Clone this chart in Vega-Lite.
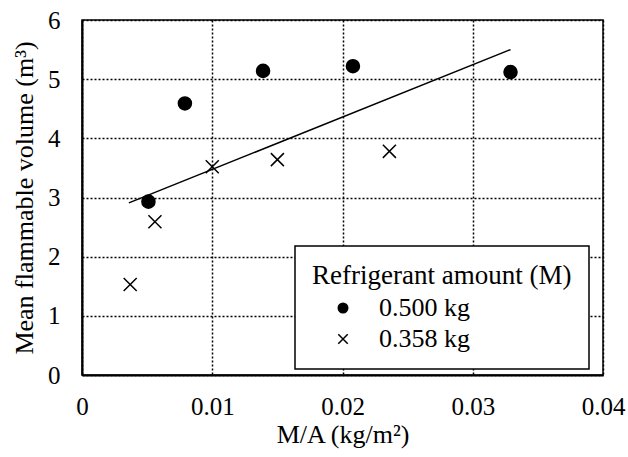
{
  "$schema": "https://vega.github.io/schema/vega-lite/v6.json",
  "width": 521,
  "height": 355,
  "autosize": {"type": "none"},
  "padding": {"left": 82, "top": 20, "right": 25, "bottom": 82},
  "background": "white",
  "config": {
    "font": "Liberation Serif",
    "view": {"stroke": "black", "strokeWidth": 1.5},
    "axis": {
      "labelFont": "Liberation Serif",
      "titleFont": "Liberation Serif",
      "labelColor": "black",
      "titleColor": "black",
      "labelFontSize": 25,
      "titleFontSize": 26,
      "titleFontWeight": "normal",
      "tickSize": 0,
      "domainColor": "black",
      "domainWidth": 2,
      "gridColor": "black",
      "gridDash": [2, 2],
      "gridWidth": 1.5,
      "gridOpacity": 1
    },
    "legend": {
      "titleFont": "Liberation Serif",
      "labelFont": "Liberation Serif",
      "titleFontSize": 27,
      "labelFontSize": 26,
      "titleFontWeight": "normal",
      "titleColor": "black",
      "labelColor": "black",
      "titleLimit": 500,
      "labelLimit": 300,
      "fillColor": "white",
      "strokeColor": "black",
      "strokeWidth": 1.5,
      "padding": 17,
      "symbolSize": 90,
      "symbolOffset": 18,
      "labelOffset": 23,
      "rowPadding": 5,
      "titlePadding": 5,
      "symbolStrokeColor": "black",
      "symbolStrokeWidth": 1.5
    }
  },
  "datasets": {
    "obs": [
      {"ma": 0.0051, "vol": 2.93, "M": "0.500 kg"},
      {"ma": 0.0079, "vol": 4.59, "M": "0.500 kg"},
      {"ma": 0.0139, "vol": 5.14, "M": "0.500 kg"},
      {"ma": 0.0208, "vol": 5.22, "M": "0.500 kg"},
      {"ma": 0.0329, "vol": 5.12, "M": "0.500 kg"},
      {"ma": 0.0037, "vol": 1.53, "M": "0.358 kg"},
      {"ma": 0.0056, "vol": 2.59, "M": "0.358 kg"},
      {"ma": 0.0100, "vol": 3.52, "M": "0.358 kg"},
      {"ma": 0.0150, "vol": 3.64, "M": "0.358 kg"},
      {"ma": 0.0236, "vol": 3.78, "M": "0.358 kg"}
    ],
    "fit": [
      {"ma": 0.0036, "vol": 2.91},
      {"ma": 0.0329, "vol": 5.50}
    ]
  },
  "encoding": {
    "x": {
      "field": "ma",
      "type": "quantitative",
      "scale": {"domain": [0, 0.04], "nice": false, "zero": false},
      "axis": {
        "values": [0, 0.01, 0.02, 0.03, 0.04],
        "format": "~g",
        "title": "M/A (kg/m²)",
        "labelPadding": 19,
        "labelFlush": false,
        "titlePadding": 2,
        "grid": true
      }
    },
    "y": {
      "field": "vol",
      "type": "quantitative",
      "scale": {"domain": [0, 6], "nice": false},
      "axis": {
        "values": [0, 1, 2, 3, 4, 5, 6],
        "title": "Mean flammable volume (m³)",
        "labelPadding": 22,
        "titlePadding": 10,
        "grid": true
      }
    }
  },
  "layer": [
    {
      "data": {"name": "fit"},
      "mark": {"type": "line", "color": "black", "strokeWidth": 1.5},
      "encoding": {}
    },
    {
      "data": {"name": "obs"},
      "mark": {"type": "point", "size": 170, "strokeWidth": 1.5, "opacity": 1},
      "encoding": {
        "shape": {
          "field": "M",
          "type": "nominal",
          "scale": {"domain": ["0.500 kg", "0.358 kg"], "range": ["circle", "M-1,-1L1,1M-1,1L1,-1"]},
          "legend": {
            "title": "Refrigerant amount (M)",
            "orient": "none",
            "legendX": 213,
            "legendY": 226,
            "direction": "vertical"
          }
        },
        "fill": {
          "field": "M",
          "type": "nominal",
          "scale": {"domain": ["0.500 kg", "0.358 kg"], "range": ["black", "transparent"]},
          "legend": {
            "title": "Refrigerant amount (M)",
            "orient": "none",
            "legendX": 213,
            "legendY": 226,
            "direction": "vertical"
          }
        },
        "stroke": {
          "field": "M",
          "type": "nominal",
          "scale": {"domain": ["0.500 kg", "0.358 kg"], "range": ["black", "black"]},
          "legend": {
            "title": "Refrigerant amount (M)",
            "orient": "none",
            "legendX": 213,
            "legendY": 226,
            "direction": "vertical"
          }
        }
      }
    }
  ]
}
